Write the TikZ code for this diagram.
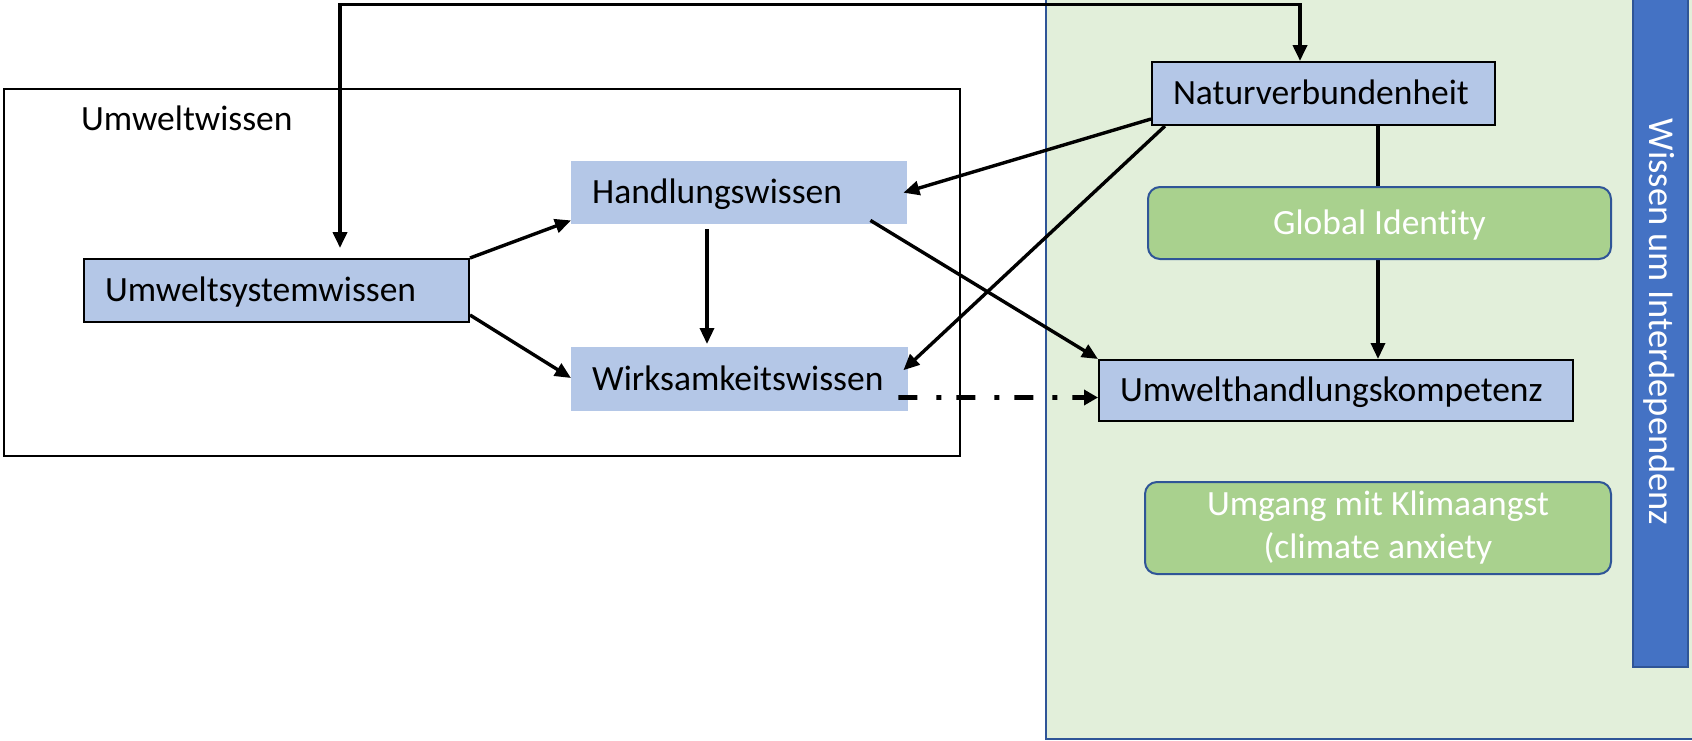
\documentclass[tikz,border=0pt]{standalone}
\usepackage{fontspec}
\setmainfont{Carlito}[Ligatures=NoCommon]
\usetikzlibrary{arrows.meta}
\definecolor{boxblue}{HTML}{B4C7E7}
\definecolor{panelgreen}{HTML}{E2EFDA}
\definecolor{leafgreen}{HTML}{A9D18E}
\definecolor{barblue}{HTML}{4472C4}
\definecolor{edgeblue}{HTML}{2F5597}
\tikzset{
  txt/.style={font=\fontsize{35.5}{43}\selectfont},
  kbox/.style={txt, fill=boxblue, anchor=north west, inner xsep=21pt, inner ysep=0pt,
    align=left, text height=22.5pt, text depth=0pt},
  kframe/.style={kbox, draw=black, line width=2pt},
  leaf/.style={txt, text=white, fill=leafgreen, draw=edgeblue, line width=2pt,
    rounded corners=12pt, anchor=north west, inner sep=0pt, align=center},
  arr/.style={line width=3.4pt, -{Triangle[length=16pt,width=14pt]}},
  dualarr/.style={line width=3.8pt, {Triangle[length=16pt,width=14pt]}-{Triangle[length=16pt,width=14pt]}},
  dashdotarr/.style={line width=4.8pt, dash pattern=on 19pt off 19pt on 5pt off 15pt,
    -{Triangle[length=14pt,width=15pt]}},
}
\begin{document}
\begin{tikzpicture}[x=1pt,y=-1pt]
\useasboundingbox (0,0) rectangle (1692,740);

% right-hand panel and side bar
\draw[fill=panelgreen, draw=edgeblue, line width=2pt] (1046,-10) rectangle (1710,739);
\node[fill=barblue, draw=edgeblue, line width=2pt, anchor=north west, inner sep=0pt,
  minimum width=55pt, minimum height=676pt] (bar) at (1632,-10) {};
\node[font=\fontsize{36.5}{43}\selectfont, text=white, rotate=-90] (bartext) at (1659.5,322) {Wissen um Interdependenz};

% Umweltwissen frame
\node[draw=black, line width=1.8pt, anchor=north west, inner sep=0pt,
  minimum width=956pt, minimum height=367pt] (uw) at (3,88) {};
\node[txt, anchor=north west, inner sep=0pt, text height=22.5pt, text depth=0pt] (uwlabel) at (81,108) {Umweltwissen};

% knowledge boxes
\node[kframe, text width=343pt, minimum height=63pt] (usw) at (83,258) {Umweltsystemwissen};
\node[kbox, text width=294pt, minimum height=63pt] (hw) at (571,161) {Handlungswissen};
\node[kbox, text width=295pt, minimum height=64pt] (wk) at (571,347) {Wirksamkeitswissen};
\node[kframe, text width=301pt, minimum height=63pt] (nat) at (1151,61) {Naturverbundenheit};
\node[kframe, text width=432pt, minimum height=61pt] (uhk) at (1098,359) {Umwelthandlungskompetenz};

% connector from Naturverbundenheit down to Umwelthandlungskompetenz (runs behind Global Identity)
\draw[arr] ([xshift=227pt]nat.south west) -- ([xshift=280pt]uhk.north west);

% green boxes
\node[leaf, minimum width=463pt, minimum height=72pt, text height=22.5pt, text depth=0pt] (gi) at (1147,186) {Global Identity};
\node[leaf, minimum width=466pt, minimum height=92pt] (ca) at (1144,481) {Umgang mit Klimaangst\\(climate anxiety};

% connectors
\coordinate (looptop) at (800,4.5);
\draw[dualarr] ([xshift=257pt,yshift=10pt]usw.north west) |- (looptop) -| ([xshift=149pt]nat.north west);
\draw[arr] (usw.north east) -- ([yshift=4pt]hw.south west);
\draw[arr] ([yshift=8pt]usw.south east) -- ([yshift=-31pt]wk.north west);
\draw[arr] ([xshift=136pt,yshift=-5pt]hw.south west) -- ([xshift=136pt,yshift=3pt]wk.north west);
\draw[arr] ([yshift=7pt]nat.south west) -- ([xshift=-4pt]hw.east);
\draw[arr] ([xshift=14pt]nat.south west) -- ([xshift=-5pt,yshift=9pt]wk.east);
\draw[arr] ([xshift=-37pt,yshift=4pt]hw.south east) -- (uhk.north west);
\draw[dashdotarr] ([xshift=-10pt,yshift=14pt]wk.south east) -- ([yshift=-7pt]uhk.west);
\end{tikzpicture}
\end{document}
